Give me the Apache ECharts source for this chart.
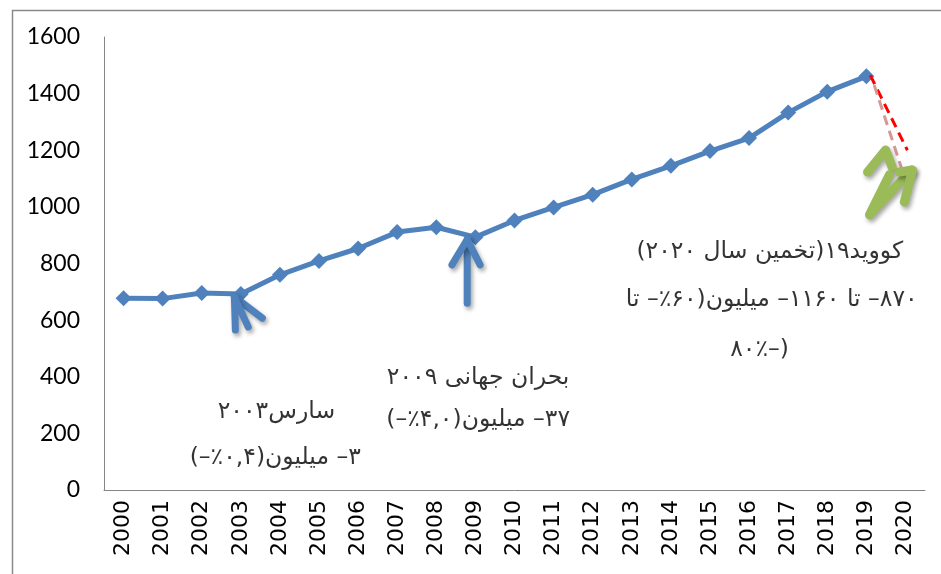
<!DOCTYPE html>
<html>
<head>
<meta charset="utf-8">
<script src="https://cdn.jsdelivr.net/npm/echarts@6/dist/echarts.min.js"></script>
<style>html,body{margin:0;padding:0;background:#fff}#c{width:941px;height:574px}</style>
</head>
<body>
<div id="c"></div>
<script>
// ---- data ----
var years = ['2000','2001','2002','2003','2004','2005','2006','2007','2008','2009','2010','2011','2012','2013','2014','2015','2016','2017','2018','2019','2020'];
var arrivals = [677, 676, 696, 692, 760, 809, 853, 911, 928, 893, 952, 998, 1043, 1097, 1145, 1197, 1243, 1333, 1407, 1461, null];
var yTicks = [0, 200, 400, 600, 800, 1000, 1200, 1400, 1600];
// projection lines (x in category-index units)
var projRed = [[19.1, 1465], [20.05, 1200]];
var projPink = [[19.2, 1430], [19.9, 1137]];
// annotation arrows (x in category-index units, y in values)
var arrow2003 = [[[3.55, 607], [2.835, 682]], [[2.86, 565], [2.835, 682], [3.19, 576]]];
var arrow2009 = [[[8.79, 660], [8.79, 885]], [[8.40, 795], [8.79, 885], [9.12, 795]]];
var arrowGreen = [[[19.03, 1123], [19.49, 1201], [19.67, 1137]], [[19.59, 1113], [19.08, 972], [20.15, 1130]], [[19.85, 1123], [20.18, 1130], [19.97, 1017]]];
// annotation texts (logical order, right-to-left): [x index, value, text]
var notes = [
  [16.53, 841, 'کووید۱۹(تخمین سال ۲۰۲۰)'],
  [16.58, 671, '۸۷۰– تا ۱۱۶۰– میلیون(۶۰٪– تا'],
  [16.27, 494, '(–۸۰٪'],
  [9.07, 396, 'بحران جهانی ۲۰۰۹'],
  [9.07, 247, '۳۷– میلیون(۴,۰٪–)'],
  [3.91, 275, 'سارس۲۰۰۳'],
  [3.88, 113, '۳– میلیون(۰,۴٪–)']
];

// show each note as a right-to-left line
function rtl(s) { return '\u200F' + s + '\u200F'; }

var chart = echarts.init(document.getElementById('c'));
var series = [{
  type: 'line', xAxisIndex: 0, data: arrivals, z: 3,
  symbol: 'diamond', symbolSize: 16,
  itemStyle: {color: '#4F81BD'},
  lineStyle: {color: '#4F81BD', width: 5},
  animation: false
}, {
  type: 'line', xAxisIndex: 1, data: projRed, symbol: 'none', z: 4,
  lineStyle: {color: '#FF0000', width: 3, type: [10, 6]}, animation: false
}, {
  type: 'line', xAxisIndex: 1, data: projPink, symbol: 'none', z: 4,
  lineStyle: {color: '#D99694', width: 3, type: [10, 6]}, animation: false
}];
function addArrow(polys, color, w) {
  polys.forEach(function (p) {
    series.push({
      type: 'line', xAxisIndex: 1, data: p, symbol: 'none', z: 5, animation: false,
      lineStyle: {color: color, width: w, cap: 'round', join: 'round',
        shadowColor: 'rgba(0,0,0,0.35)', shadowBlur: 4, shadowOffsetX: 2, shadowOffsetY: 3}
    });
  });
}
addArrow(arrow2003, '#4F81BD', 7);
addArrow(arrow2009, '#4F81BD', 7);
addArrow(arrowGreen, '#9BBB59', 9);
series.push({
  type: 'scatter', xAxisIndex: 1, symbolSize: 0, z: 6, animation: false,
  data: notes.map(function (n) { return {value: [n[0], n[1]], name: rtl(n[2])}; }),
  label: {show: true, position: 'inside', formatter: function (p) { return p.name; },
    color: '#000', fontFamily: 'DejaVu Sans', fontSize: 23.5}
});

chart.setOption({
  animation: false,
  backgroundColor: '#fff',
  grid: {left: 104, right: 16, top: 37, bottom: 84, containLabel: false},
  xAxis: [{
    type: 'category', data: years, boundaryGap: true,
    axisLine: {lineStyle: {color: '#868686', width: 1}},
    axisTick: {show: false},
    axisLabel: {rotate: 90, color: '#000', fontFamily: 'DejaVu Sans', fontSize: 22, margin: 10, interval: 0},
    splitLine: {show: false}
  }, {
    type: 'value', min: -0.5, max: 20.5, show: false
  }],
  yAxis: {
    type: 'value', min: 0, max: 1600, interval: 200,
    axisLine: {show: true, onZero: false, lineStyle: {color: '#868686', width: 1}},
    axisTick: {show: false},
    splitLine: {show: false},
    axisLabel: {color: '#000', fontFamily: 'Lato', fontSize: 23, margin: 24,
      formatter: function (v) { return yTicks.indexOf(v) >= 0 ? String(v) : ''; }}
  },
  graphic: [{
    type: 'rect', left: 10, top: 8, shape: {width: 960, height: 600},
    style: {fill: 'none', stroke: '#8a8a8a', lineWidth: 1.5}, silent: true
  }],
  series: series
});
</script>
</body>
</html>
